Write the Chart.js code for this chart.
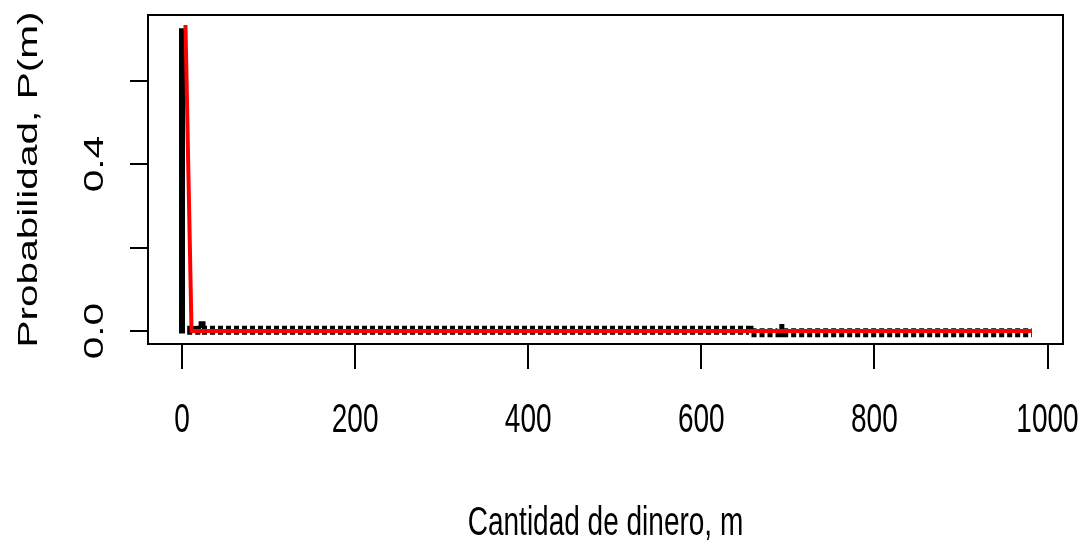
<!DOCTYPE html>
<html>
<head>
<meta charset="utf-8">
<script src="https://cdn.jsdelivr.net/npm/chart.js@4/dist/chart.umd.min.js"></script>
<style>
  html, body { margin: 0; padding: 0; background: #fff; }
</style>
</head>
<body>
<canvas id="chart" width="1086" height="543"></canvas>
<script>
// simulated distribution: the big spike at m = 0 and the flat tail
const spikeM = [0, 0]
const spikeP = [-0.006, 0.725]

const tailM = [6, 16, 22, 655, 688, 696, 982]
const tailP = [0.002, 0.013, 0.002, -0.004, 0.006, -0.004, -0.004]

// fitted curve (red)
const fitM = [4, 11, 982]
const fitP = [0.733, 0.0, 0.0]

const xTicks = [0, 200, 400, 600, 800, 1000]
const xTickLabels = ["0", "200", "400", "600", "800", "1000"]
const yTicks = [0, 0.2, 0.4, 0.6]
const yTickLabels = ["0.0", "", "0.4", ""]

const xTitle = "Cantidad de dinero, m"
const yTitle = "Probabilidad, P(m)"

const pts = (xs, ys) => xs.map((x, i) => ({ x: x, y: ys[i] }))

const FONT = "28px 'Liberation Sans', Arial, sans-serif"
const STRETCH = 1.45

// text is drawn a bit taller than wide, like the old R device output
function stretchedText(ctx, text, x, y, vertical) {
  ctx.save()
  ctx.translate(x, y)
  if (vertical) {
    ctx.rotate(-Math.PI / 2)
    ctx.scale(STRETCH, 1)
  } else {
    ctx.scale(1, STRETCH)
  }
  ctx.fillText(text, 0, 0)
  ctx.restore()
}

const baseAxes = {
  id: "baseAxes",
  afterDraw(chart) {
    const { ctx, chartArea: a, scales: { x, y } } = chart
    ctx.save()
    ctx.strokeStyle = "#000"
    ctx.fillStyle = "#000"
    ctx.lineWidth = 2
    ctx.strokeRect(a.left, a.top, a.right - a.left, a.bottom - a.top)

    ctx.beginPath()
    xTicks.forEach(v => {
      const px = Math.round(x.getPixelForValue(v))
      ctx.moveTo(px, a.bottom)
      ctx.lineTo(px, a.bottom + 25)
    })
    yTicks.forEach(v => {
      const py = Math.round(y.getPixelForValue(v))
      ctx.moveTo(a.left, py)
      ctx.lineTo(a.left - 18, py)
    })
    ctx.stroke()

    ctx.font = FONT
    ctx.textAlign = "center"
    ctx.textBaseline = "alphabetic"
    xTicks.forEach((v, i) => {
      stretchedText(ctx, xTickLabels[i], x.getPixelForValue(v), 432, false)
    })
    yTicks.forEach((v, i) => {
      if (yTickLabels[i]) stretchedText(ctx, yTickLabels[i], 103, y.getPixelForValue(v), true)
    })

    stretchedText(ctx, xTitle, (a.left + a.right) / 2, 535, false)
    stretchedText(ctx, yTitle, 37, (a.top + a.bottom) / 2, true)
    ctx.restore()
  }
}

new Chart(document.getElementById("chart"), {
  type: "line",
  data: {
    datasets: [
      {
        label: "ajuste",
        data: pts(fitM, fitP),
        borderColor: "#ff0000",
        borderWidth: 4,
        pointRadius: 0,
        order: 0
      },
      {
        label: "m = 0",
        data: pts(spikeM, spikeP),
        borderColor: "#000",
        borderWidth: 6,
        pointRadius: 0,
        order: 1
      },
      {
        label: "cola",
        data: pts(tailM, tailP),
        borderColor: "#000",
        borderWidth: 9,
        borderDash: [5, 3],
        borderCapStyle: "butt",
        stepped: "before",
        pointRadius: 0,
        order: 2
      }
    ]
  },
  options: {
    responsive: false,
    animation: false,
    layout: { padding: { left: 148, top: 15, right: 23, bottom: 199 } },
    plugins: { legend: { display: false }, tooltip: { enabled: false } },
    scales: {
      x: { type: "linear", min: -39.3, max: 1017.9, display: false },
      y: { type: "linear", min: -0.031, max: 0.757, display: false }
    }
  },
  plugins: [baseAxes]
})
</script>
</body>
</html>
